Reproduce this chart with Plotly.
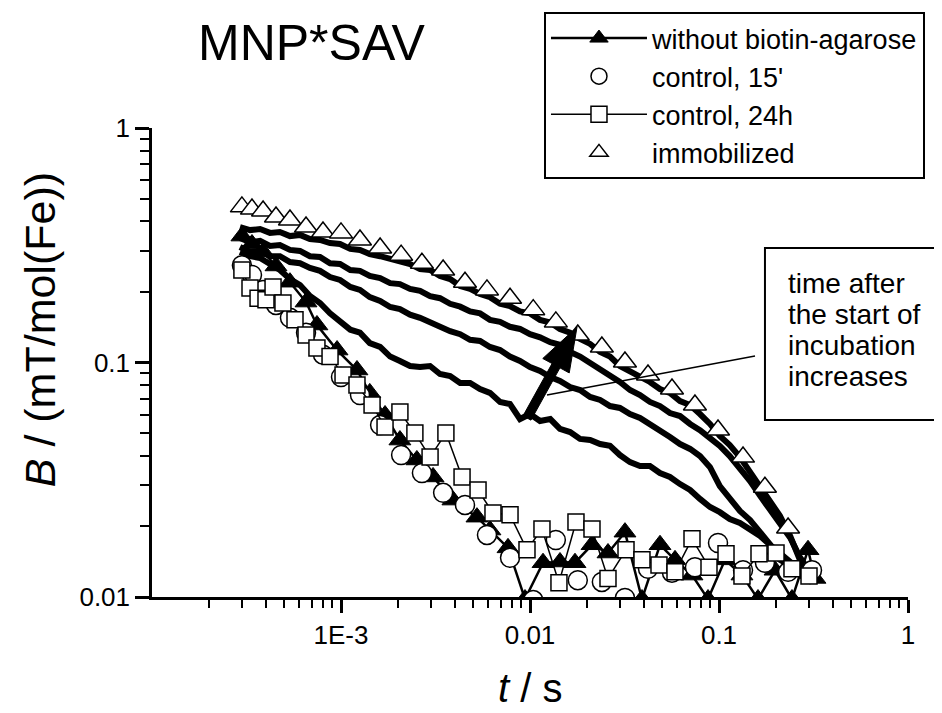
import plotly.graph_objects as go

# ---------------- data ----------------
# time grid (s) for the incubation-series curves
t_incub = [2.92e-4, 3.30e-4, 3.73e-4, 4.21e-4, 4.75e-4, 5.37e-4, 6.07e-4, 6.85e-4, 7.74e-4, 8.75e-4,
           9.88e-4, 1.12e-3, 1.26e-3, 1.42e-3, 1.61e-3, 1.82e-3, 2.05e-3, 2.32e-3, 2.62e-3, 2.96e-3,
           3.34e-3, 3.78e-3, 4.27e-3, 4.82e-3, 5.44e-3, 6.14e-3, 6.94e-3, 7.83e-3, 8.85e-3, 0.0100,
           0.0113, 0.0128, 0.0144, 0.0163, 0.0184, 0.0208, 0.0235, 0.0265, 0.0299, 0.0338,
           0.0382, 0.0431, 0.0487, 0.0550, 0.0622, 0.0703, 0.0793, 0.0896, 0.101, 0.114,
           0.129, 0.146, 0.165, 0.186, 0.210, 0.238, 0.268, 0.303, 0.342]

B_incub_4 = [0.378, 0.367, 0.371, 0.357, 0.360, 0.346, 0.350, 0.336, 0.333, 0.323, 0.320, 0.305, 0.302,
             0.290, 0.284, 0.276, 0.268, 0.263, 0.250, 0.248, 0.234, 0.227, 0.212, 0.206, 0.196, 0.190,
             0.178, 0.174, 0.165, 0.162, 0.152, 0.148, 0.139, 0.134, 0.126, 0.120, 0.111, 0.106, 0.0966,
             0.0920, 0.0867, 0.0826, 0.0771, 0.0742, 0.0685, 0.0659, 0.0603, 0.0547, 0.0486, 0.0445,
             0.0395, 0.0341, 0.0297, 0.0262, 0.0222, 0.0182, 0.0144, 0.0121, 0.0133]
B_incub_3 = [0.340, 0.326, 0.330, 0.314, 0.317, 0.302, 0.299, 0.284, 0.282, 0.265, 0.263, 0.248, 0.246,
             0.234, 0.229, 0.218, 0.216, 0.206, 0.202, 0.192, 0.188, 0.178, 0.173, 0.165, 0.162, 0.152,
             0.149, 0.142, 0.139, 0.132, 0.128, 0.122, 0.119, 0.111, 0.106, 0.0994, 0.0947, 0.0875,
             0.0826, 0.0763, 0.0727, 0.0679, 0.0652, 0.0609, 0.0591, 0.0547, 0.0515, 0.0476, 0.0441,
             0.0399, 0.0355, 0.0312, 0.0270, 0.0235, 0.0209, 0.0179, 0.0148, 0.0128, 0.0137]
B_incub_2 = [0.311, 0.296, 0.299, 0.284, 0.284, 0.268, 0.265, 0.253, 0.246, 0.2315, 0.225, 0.210, 0.204,
             0.190, 0.183, 0.1725, 0.169, 0.160, 0.155, 0.148, 0.143, 0.136, 0.132, 0.125, 0.1235, 0.1165,
             0.113, 0.106, 0.1015, 0.0957, 0.0920, 0.0867, 0.0834, 0.0786, 0.0763, 0.0713, 0.0692,
             0.0652, 0.0640, 0.0603, 0.0580, 0.0547, 0.0515, 0.0481, 0.0449, 0.0428, 0.0399, 0.0358,
             0.0297, 0.0264, 0.0233, 0.0213, 0.0188, 0.0168, 0.0144, 0.0136, 0.0124, 0.0117, 0.0124]
B_incub_1 = [0.296, 0.284, 0.279, 0.263, 0.248, 0.227, 0.214, 0.192, 0.1794, 0.162, 0.150, 0.138, 0.134,
             0.121, 0.1165, 0.106, 0.1015, 0.0966, 0.0957, 0.0966, 0.0893, 0.0875, 0.0818, 0.0818,
             0.0771, 0.0742, 0.0679, 0.0665, 0.0574, 0.0603, 0.0563, 0.0574, 0.0521, 0.0505, 0.0472,
             0.0467, 0.0449, 0.0441, 0.0403, 0.0376, 0.0362, 0.0362, 0.0338, 0.0325, 0.0303, 0.0286,
             0.0262, 0.0242, 0.0230, 0.0215, 0.0207, 0.0193, 0.0182, 0.0167, 0.0154, 0.0140, 0.0130,
             0.0120, 0.0128]

# immobilized
t_immob = [2.99e-4, 3.38e-4, 3.87e-4, 4.53e-4, 5.37e-4, 6.53e-4, 8.03e-4, 1.00e-3, 1.26e-3, 1.61e-3,
           2.08e-3, 2.68e-3, 3.47e-3, 4.53e-3, 5.92e-3, 7.84e-3, 0.0104, 0.0137, 0.0179, 0.0240,
           0.0318, 0.0421, 0.0564, 0.0746, 0.0988, 0.134, 0.175, 0.232]
B_immob = [0.461, 0.451, 0.443, 0.417, 0.405, 0.378, 0.360, 0.357, 0.333, 0.308, 0.287, 0.265, 0.248,
           0.220, 0.204, 0.188, 0.168, 0.149, 0.131, 0.1165, 0.1005, 0.0884, 0.0771, 0.0659, 0.0515,
           0.0395, 0.0294, 0.0197]

# control, 15'
t_ctrl15 = [2.99e-4, 3.38e-4, 3.87e-4, 4.53e-4, 5.37e-4, 6.53e-4, 8.03e-4, 1.00e-3, 1.26e-3, 1.61e-3,
            2.08e-3, 2.68e-3, 3.47e-3, 4.53e-3, 5.92e-3, 7.84e-3, 0.0104, 0.0137, 0.0179, 0.0240,
            0.0318, 0.0421, 0.0564, 0.0746, 0.0988, 0.134, 0.175, 0.232, 0.3105]
B_ctrl15 = [0.260, 0.236, 0.204, 0.176, 0.155, 0.134, 0.108, 0.0867, 0.0727, 0.0541, 0.0403, 0.0338,
            0.0278, 0.0247, 0.0184, 0.0147, 0.0097, 0.0175, 0.0118, 0.0116, 0.0099, 0.0132, 0.0127,
            0.0134, 0.0170, 0.0130, 0.0140, 0.0128, 0.0130]

# control, 24h
t_ctrl24 = [2.99e-4, 3.30e-4, 3.64e-4, 4.01e-4, 4.37e-4, 4.93e-4, 5.71e-4, 6.53e-4, 7.46e-4, 8.75e-4,
            1.025e-3, 1.215e-3, 1.46e-3, 1.71e-3, 2.05e-3, 2.46e-3, 2.96e-3, 3.59e-3, 4.37e-3, 5.31e-3,
            6.37e-3, 7.84e-3, 9.64e-3, 0.01157, 0.01423, 0.01751, 0.02128, 0.02586, 0.03221, 0.03913,
            0.04814, 0.05851, 0.07197, 0.08853, 0.1089, 0.1323, 0.1628, 0.2003, 0.2433, 0.2994]
B_ctrl24 = [0.248, 0.208, 0.188, 0.185, 0.210, 0.1794, 0.152, 0.131, 0.1153, 0.106, 0.0884, 0.0802,
            0.0659, 0.0531, 0.0615, 0.0500, 0.0395, 0.0500, 0.0325, 0.0286, 0.0228, 0.0224, 0.0159,
            0.0195, 0.0115, 0.0209, 0.0195, 0.0120, 0.0159, 0.0144, 0.0137, 0.0128, 0.0177, 0.0134,
            0.0153, 0.0123, 0.0153, 0.0154, 0.0132, 0.0123]

# without biotin-agarose
t_free = [2.99e-4, 3.38e-4, 3.87e-4, 4.53e-4, 5.37e-4, 6.53e-4, 7.46e-4, 9.53e-4, 1.215e-3, 1.42e-3,
          1.71e-3, 2.05e-3, 2.52e-3, 3.07e-3, 3.91e-3, 5.24e-3, 6.14e-3, 7.65e-3, 9.41e-3, 0.01172,
          0.01441, 0.01730, 0.02128, 0.02586, 0.03181, 0.03913, 0.04874, 0.05851, 0.07197, 0.08746,
          0.1076, 0.1323, 0.1608, 0.1978, 0.2433, 0.2958, 0.3221]
B_free = [0.346, 0.320, 0.296, 0.258, 0.220, 0.181, 0.1445, 0.113, 0.0929, 0.0742, 0.0597, 0.0467,
          0.0384, 0.0325, 0.0259, 0.0219, 0.0193, 0.0162, 0.0098, 0.0140, 0.0141, 0.0140, 0.0167,
          0.0154, 0.0189, 0.0098, 0.0167, 0.0144, 0.0124, 0.0098, 0.0144, 0.0124, 0.0098, 0.0130,
          0.0098, 0.0159, 0.0120]

x_tickvals = [1e-3, 1e-2, 1e-1, 1]
x_ticktext = ["1E-3", "0.01", "0.1", "1"]
y_tickvals = [0.01, 0.1, 1]
y_ticktext = ["0.01", "0.1", "1"]
x_minor = [m * 10.0 ** e for e in (-4, -3, -2, -1) for m in range(2, 10)]
y_minor = [m * 10.0 ** e for e in (-2, -1) for m in range(2, 10)]

FONT = "Liberation Sans, Arial, sans-serif"

fig = go.Figure()

for B in (B_incub_1, B_incub_2, B_incub_3, B_incub_4):
    fig.add_trace(go.Scatter(x=t_incub, y=B, mode="lines", showlegend=False,
                             line=dict(color="black", width=6)))

fig.add_trace(go.Scatter(x=t_free, y=B_free, mode="lines+markers", name="without biotin-agarose",
                         line=dict(color="black", width=2.5),
                         marker=dict(symbol="triangle-up", size=19, color="black",
                                     line=dict(color="black", width=1))))
fig.add_trace(go.Scatter(x=t_ctrl15, y=B_ctrl15, mode="markers", name="control, 15'",
                         marker=dict(symbol="circle", size=19, color="white",
                                     line=dict(color="black", width=1.5))))
fig.add_trace(go.Scatter(x=t_ctrl24, y=B_ctrl24, mode="lines+markers", name="control, 24h",
                         line=dict(color="black", width=1.5),
                         marker=dict(symbol="square", size=16, color="white",
                                     line=dict(color="black", width=1.5))))
fig.add_trace(go.Scatter(x=t_immob, y=B_immob, mode="markers", name="immobilized",
                         marker=dict(symbol="triangle-up", size=20, color="white",
                                     line=dict(color="black", width=1.5))))

axis_common = dict(showline=True, linewidth=2.5, linecolor="black", ticks="outside",
                   tickwidth=2.5, tickcolor="black", showgrid=False, zeroline=False,
                   tickfont=dict(family=FONT, size=26, color="black"), mirror=False)

fig.update_xaxes(type="log", range=[-4, 0], tickvals=x_tickvals, ticktext=x_ticktext, ticklen=13,
                 minor=dict(tickvals=x_minor, ticks="outside", ticklen=8, tickwidth=2,
                            tickcolor="black", showgrid=False),
                 **axis_common)
fig.update_yaxes(type="log", range=[-2, 0], tickvals=y_tickvals, ticktext=y_ticktext, ticklen=14,
                 minor=dict(tickvals=y_minor, ticks="outside", ticklen=9, tickwidth=2,
                            tickcolor="black", showgrid=False),
                 **axis_common)

# annotation geometry (paper fractions)
arrow_path = ("M0.4908,0.3862 L0.5292,0.4978 L0.5169,0.5085 L0.5622,0.5757 "
              "L0.5519,0.4778 L0.5396,0.4886 L0.5013,0.3771 Z")
note_lines = ["time after", "the start of", "incubation", "increases"]
note_y = [0.6695, 0.6034, 0.5373, 0.4712]

shapes = [
    dict(type="path", xref="paper", yref="paper", path=arrow_path,
         fillcolor="black", line=dict(color="black", width=1)),
    dict(type="line", xref="paper", yref="paper", x0=0.5225, y0=0.4307, x1=0.7976, y1=0.5139,
         line=dict(color="black", width=1.5)),
    dict(type="rect", xref="paper", yref="paper", x0=0.8108, y0=0.3774, x1=1.0423, y1=0.7441,
         line=dict(color="black", width=2), fillcolor="white"),
]

annotations = [
    dict(text="MNP*SAV", xref="paper", yref="paper", x=0.2116, y=1.1812, showarrow=False,
         xanchor="center", yanchor="middle", font=dict(family=FONT, size=50, color="black")),
    dict(text="<i>t</i> / s", xref="paper", yref="paper", x=0.5, y=-0.194, showarrow=False,
         xanchor="center", yanchor="middle", font=dict(family=FONT, size=40, color="black")),
    dict(text="<i>B</i> / (mT/mol(Fe))", xref="paper", yref="paper", x=-0.148, y=0.569,
         showarrow=False, textangle=-90, xanchor="center", yanchor="middle",
         font=dict(family=FONT, size=43, color="black")),
]
for txt, yy in zip(note_lines, note_y):
    annotations.append(dict(text=txt, xref="paper", yref="paper", x=0.8386, y=yy, showarrow=False,
                            xanchor="left", yanchor="middle",
                            font=dict(family=FONT, size=28, color="black")))

# the page adds an 8 px body margin, so the figure is drawn 8 px smaller and offset
fig.update_layout(
    width=934, height=705,
    margin=dict(l=144, r=34, t=120, b=116, autoexpand=False),
    paper_bgcolor="white", plot_bgcolor="white",
    font=dict(family=FONT, color="black"),
    showlegend=True,
    legend=dict(x=0.5185, y=1.2473, xanchor="left", yanchor="top",
                bordercolor="black", borderwidth=2, bgcolor="white",
                font=dict(family=FONT, size=27, color="black"),
                tracegroupgap=0, itemwidth=96),
    shapes=shapes,
    annotations=annotations,
)

fig.write_html("out.html")
